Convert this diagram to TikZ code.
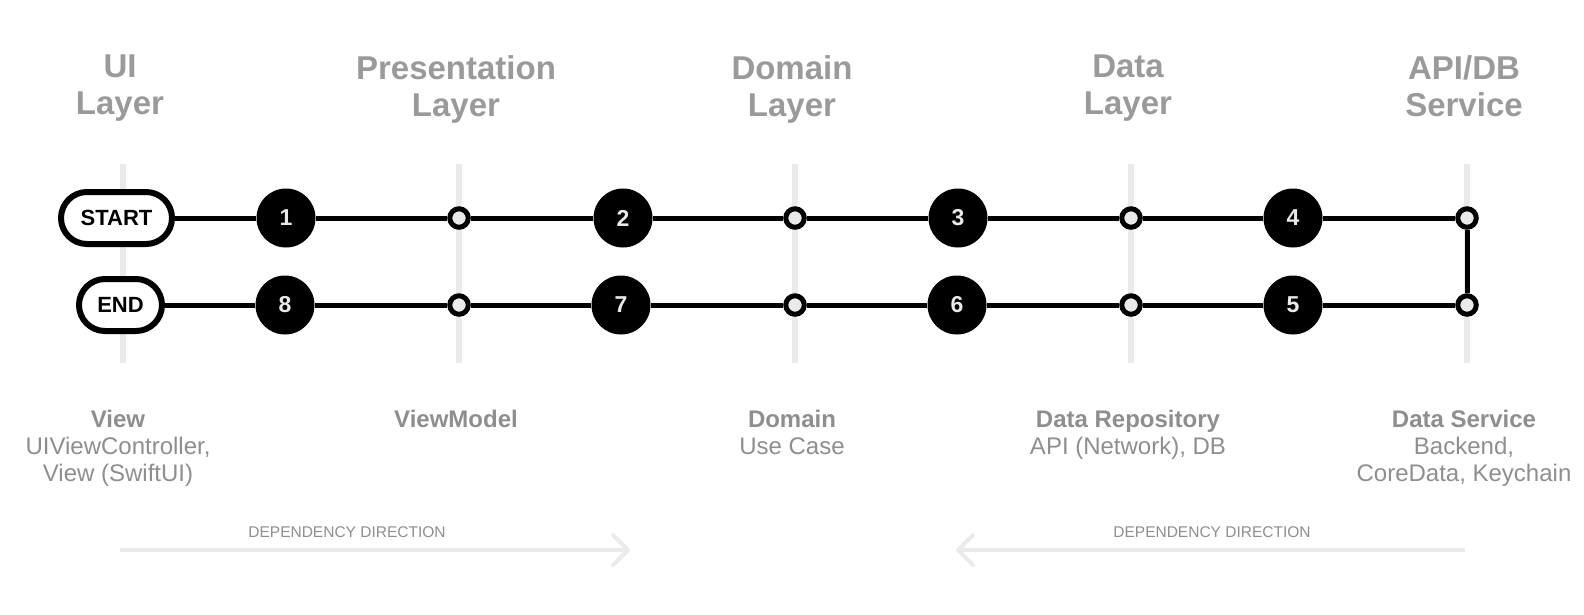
\documentclass[tikz,border=0pt]{standalone}
\usepackage{fontspec}
\setmainfont{Liberation Sans}
\usetikzlibrary{arrows.meta}

\definecolor{railgray}{HTML}{EAEAEA}
\definecolor{titlegray}{HTML}{9A9A9A}
\definecolor{labelgray}{HTML}{8E8E8E}

\begin{document}
\begin{tikzpicture}[x=1pt,y=-1pt,
    rail/.style={line width=6pt,draw=railgray},
    wire/.style={line width=5pt},
    terminal/.style={draw,fill=white,line width=6pt,rounded corners=26pt,minimum height=52pt,inner sep=0pt,font=\fontsize{22}{22}\selectfont\bfseries},
    stepdot/.style={circle,fill=black,minimum size=59pt,inner sep=0pt,text=railgray,font=\fontsize{23}{23}\selectfont\bfseries},
    joint/.style={circle,draw,fill=railgray,line width=5pt,minimum size=18.5pt,inner sep=0pt},
    layer/.style={anchor=north,inner sep=0pt,align=center,text=titlegray,font=\fontsize{33}{37}\selectfont\bfseries},
    role/.style={anchor=north,inner sep=0pt,align=center,text=labelgray,font=\fontsize{24}{27}\selectfont},
    depline/.style={line width=4pt,draw=railgray,-{Straight Barb[length=15pt,width=30pt,round]}},
    deplabel/.style={anchor=base,inner sep=0pt,text=labelgray,font=\fontsize{15.5}{16}\selectfont}]
  \useasboundingbox (0,0) rectangle (1584,614);

  % layer titles
  \node[layer] (uititle)   at (120,55)  {UI\\Layer};
  \node[layer] (prestitle) at (456,55)  {Presentation\\Layer};
  \node[layer] (domtitle)  at (792,55)  {Domain\\Layer};
  \node[layer] (datatitle) at (1128,55) {Data\\Layer};
  \node[layer] (apititle)  at (1464,55) {API/DB\\Service};

  % vertical rails
  \foreach \x in {123,459,795,1131,1467}
    \draw[rail] (\x,164) -- (\x,363);

  % start and end
  \node[terminal,minimum width=111pt] (startpill) at (116.5,218) {START};
  \node[terminal,minimum width=83pt]  (endpill)   at (120.5,305) {END};

  % numbered steps
  \foreach \n/\x/\y in {1/286/218,2/623/218,3/958/218,4/1293/218,
                        5/1293/305,6/957/305,7/621/305,8/285/305}
    \node[stepdot] (n\n) at (\x,\y) {\n};

  % joints on the rails
  \foreach \x [count=\i] in {459,795,1131,1467} {
    \node[joint] (ja\i) at (\x,218) {};
    \node[joint] (jb\i) at (\x,305) {};
  }

  % flow
  \draw[wire] (startpill) -- (n1) -- (ja1) -- (n2) -- (ja2) -- (n3) -- (ja3) -- (n4) -- (ja4)
    -- (jb4) -- (n5) -- (jb3) -- (n6) -- (jb2) -- (n7) -- (jb1) -- (n8) -- (endpill);

  % roles
  \node[role] (viewrole) at (118,410)  {\textbf{View}\\UIViewController,\\View (SwiftUI)};
  \node[role] (vmrole)   at (456,410)  {\textbf{ViewModel}};
  \node[role] (domrole)  at (792,410)  {\textbf{Domain}\\Use Case};
  \node[role] (reporole) at (1128,410) {\textbf{Data Repository}\\API (Network), DB};
  \node[role] (svcrole)  at (1464,410) {\textbf{Data Service}\\Backend,\\CoreData, Keychain};

  % dependency direction
  \coordinate (depa) at (120,550);
  \coordinate (depb) at (630,550);
  \coordinate (depc) at (1465,550);
  \coordinate (depd) at (956,550);
  \draw[depline] (depa) -- (depb);
  \draw[depline] (depc) -- (depd);
  \node[deplabel] (deptexta) at (347,537)  {DEPENDENCY DIRECTION};
  \node[deplabel] (deptextb) at (1212,537) {DEPENDENCY DIRECTION};
\end{tikzpicture}
\end{document}
